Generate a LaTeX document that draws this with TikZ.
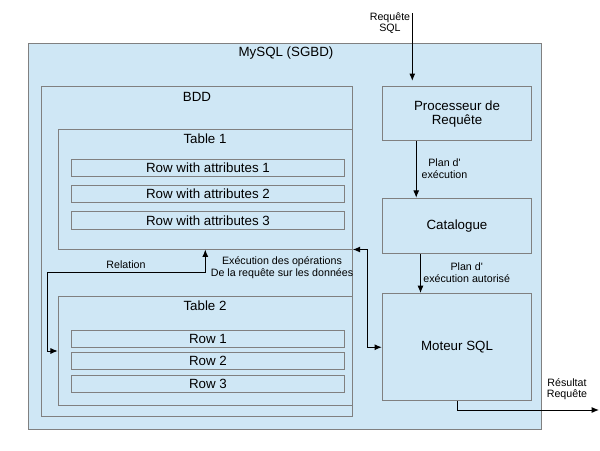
\documentclass[tikz,border=0pt]{standalone}
\usepackage{fontspec}
\setmainfont{Liberation Sans}
\usetikzlibrary{arrows.meta,positioning,fit}
\definecolor{sgbdblue}{RGB}{207,231,245}
\definecolor{boxgray}{RGB}{128,128,128}

\begin{document}
\begin{tikzpicture}[x=0.75pt,y=-0.75pt,
  box/.style = {draw=boxgray, fill=sgbdblue, line width=0.75pt, inner sep=0pt},
  row/.style = {box, minimum width=205pt, minimum height=13pt},
  engine/.style = {box, minimum width=112pt, align=center},
  small/.style = {font=\fontsize{8}{8.7}\selectfont, align=center, inner sep=0pt},
  link/.style = {line width=0.75pt, -{Latex[length=5.5pt,width=4.5pt]}},
  dlink/.style = {line width=0.75pt, {Latex[length=5.5pt,width=4.5pt]}-{Latex[length=5.5pt,width=4.5pt]}},
  font=\fontsize{10}{10.3}\selectfont]
\useasboundingbox (0,0) rectangle (600,450);
% le SGBD et la base
\node[box, fit={(28.5,43.3) (541,429)}] (sgbd) {};
\node (sgbdtitle) at (286,53.5) {MySQL (SGBD)};
\node[box, fit={(41.7,86) (352.3,416)}] (bdd) {};
\node (bddtitle) at (197,97) {BDD};
% table 1
\node[box, fit={(58.3,129.3) (352.3,249)}] (tab1) {};
\node (tab1title) at (205,139) {Table 1};
\node[row] (r11) at (208,167.8) {Row with attributes 1};
\node[row, below=6pt of r11] (r12) {Row with attributes 2};
\node[row, below=6pt of r12] (r13) {Row with attributes 3};
% table 2
\node[box, fit={(58.3,296.7) (352.3,405.3)}] (tab2) {};
\node (tab2title) at (205,306) {Table 2};
\node[row] (r21) at (208,338.7) {Row 1};
\node[row, below=3.2pt of r21] (r22) {Row 2};
\node[row, below=3.2pt of r22] (r23) {Row 3};
% traitement de la requete
\node[engine, minimum height=40.7pt] (proc) at (457,113.85) {Processeur de\\Requête};
\node[engine, minimum height=41.8pt, below=42.2pt of proc] (cat) {Catalogue};
\node[engine, minimum height=80.6pt, below=28.9pt of cat] (moteur) {Moteur SQL};
\coordinate (sqlin) at (412.3,13);
\coordinate (resultat) at (599,410);
\coordinate (relbend) at (47.3,272.3);
\draw[link, shorten >=4pt] (sqlin) -- (sqlin |- proc.north);
\draw[link] ([xshift=25.8pt]proc.south west) -- ([xshift=25.8pt]cat.north west);
\draw[link] ([xshift=29pt]cat.south west) -- ([xshift=29pt]moteur.north west);
\draw[link] (moteur.south) |- (resultat);
\draw[dlink] (tab1.south east) -- ++(15,0) |- (moteur.west);
\draw[dlink] (tab1.south) |- (relbend) |- (tab2.west);
% etiquettes
\node[small] (sqllabel) at (390,23) {Requête\\SQL};
\node[small] (plan1) at (444.5,168.7) {Plan d\textquotesingle\\exécution};
\node[small] (plan2) at (466.7,272.5) {Plan d\textquotesingle\\exécution autorisé};
\node[small] (reslabel) at (567,389) {Résultat\\Requête};
\node[small] (execlabel) at (282,267.5) {Exécution des opérations\\De la requête sur les données};
\node[small] (rellabel) at (126,265) {Relation};
\end{tikzpicture}
\end{document}
